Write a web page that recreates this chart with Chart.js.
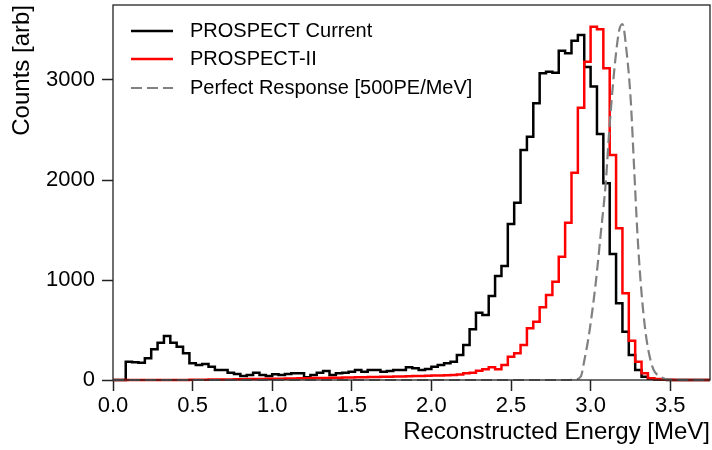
<!DOCTYPE html>
<html>
<head>
<meta charset="utf-8">
<script src="https://cdn.jsdelivr.net/npm/chart.js@4"></script>
<style>
  html, body { margin: 0; padding: 0; background: #fff; }
</style>
</head>
<body>
<canvas id="spec" width="712" height="450"></canvas>
<script>

// histogram binning (MeV)
var binStart = 0.0, binWidth = 0.04;

// PROSPECT Current, counts per bin
var currentCounts = [
  0, 0, 183, 177, 173, 217, 307, 373, 440, 373,
  333, 267, 167, 150, 160, 133, 100, 100, 73, 60,
  40, 50, 73, 50, 40, 57, 50, 60, 67, 67,
  27, 50, 73, 90, 50, 67, 73, 83, 100, 83,
  100, 100, 83, 90, 100, 100, 127, 117, 100, 110,
  133, 150, 167, 183, 250, 350, 507, 673, 650, 840,
  1040, 1140, 1560, 1773, 2300, 2433, 2767, 3067, 3083, 3073,
  3293, 3267, 3393, 3450, 3130, 2935, 2460, 1967, 1260, 767,
  483, 250, 100, 33, 12, 5, 3, 0, 0, 0,
  0, 0, 0, 0
];

// PROSPECT-II, counts per bin
var p2Counts = [
  0, 0, 0, 0, 0, 0, 0, 0, 0, 0,
  0, 1, 2, 2, 3, 4, 4, 5, 6, 7,
  8, 9, 10, 10, 12, 13, 13, 15, 16, 17,
  18, 19, 20, 20, 22, 23, 24, 25, 27, 28,
  29, 30, 32, 33, 35, 36, 37, 39, 40, 42,
  44, 46, 48, 50, 55, 67, 73, 93, 107, 127,
  107, 150, 233, 267, 350, 517, 583, 727, 850, 983,
  1233, 1573, 2073, 2723, 3183, 3533, 3507, 3117, 2250, 1517,
  867, 393, 183, 67, 17, 10, 5, 3, 0, 0,
  0, 0, 0, 0
];

// perfect response curve
var perfectE = [0, 2.85, 2.90, 2.938, 2.96, 2.991, 3.032, 3.064, 3.095, 3.116, 3.141, 3.162, 3.18,
  3.20, 3.225, 3.252, 3.273, 3.294, 3.315, 3.346, 3.388, 3.44, 3.50, 3.75];
var perfectCounts = [0, 0, 5, 33, 190, 467, 967, 1467, 1967, 2467, 2967, 3300, 3500,
  3560, 3300, 2800, 2133, 1467, 967, 467, 133, 33, 3, 0];

var xTicks = [0, 0.5, 1, 1.5, 2, 2.5, 3, 3.5];
var yTicks = [0, 1000, 2000, 3000];

function histPoints(counts) {
  var pts = [];
  for (var i = 0; i < counts.length; i++) {
    pts.push({x: binStart + i * binWidth, y: counts[i]});
  }
  pts.push({x: binStart + counts.length * binWidth, y: 0});
  return pts;
}

var perfectPts = perfectE.map(function(e, i) { return {x: e, y: perfectCounts[i]}; });

Chart.defaults.font.family = '"Liberation Sans", Arial, sans-serif';
Chart.defaults.color = '#000';

// frame around the plot area + legend in the upper left
var framePlugin = {
  id: 'frame',
  afterDraw: function(chart) {
    var ctx = chart.ctx, a = chart.chartArea;
    ctx.save();
    ctx.strokeStyle = '#222';
    ctx.lineWidth = 1.3;
    ctx.strokeRect(a.left, a.top, a.right - a.left, a.bottom - a.top);

    var rowY = [31, 59, 88];
    ctx.font = '20px "Liberation Sans", Arial, sans-serif';
    ctx.textBaseline = 'middle';
    ctx.textAlign = 'left';
    chart.data.datasets.forEach(function(ds, i) {
      ctx.beginPath();
      ctx.strokeStyle = ds.borderColor;
      ctx.lineWidth = ds.borderWidth;
      ctx.setLineDash(ds.borderDash || []);
      ctx.moveTo(a.left + 18, rowY[i]);
      ctx.lineTo(a.left + 60, rowY[i]);
      ctx.stroke();
      ctx.setLineDash([]);
      ctx.fillStyle = '#000';
      ctx.fillText(ds.label, a.left + 77, rowY[i]);
    });
    ctx.restore();
  }
};

new Chart(document.getElementById('spec'), {
  type: 'line',
  data: {
    datasets: [{
      label: 'PROSPECT Current',
      data: histPoints(currentCounts),
      borderColor: '#000000',
      borderWidth: 2.5,
      stepped: 'before',
      pointRadius: 0,
      order: 3,
      clip: {left: 2, top: 0, right: 0, bottom: 3}
    }, {
      label: 'PROSPECT-II',
      data: histPoints(p2Counts),
      borderColor: '#ff0000',
      borderWidth: 2.5,
      stepped: 'before',
      pointRadius: 0,
      order: 2,
      clip: {left: 2, top: 0, right: 0, bottom: 3}
    }, {
      label: 'Perfect Response [500PE/MeV]',
      data: perfectPts,
      borderColor: '#808080',
      borderWidth: 2.2,
      borderDash: [11, 5],
      cubicInterpolationMode: 'monotone',
      pointRadius: 0,
      order: 1,
      clip: {left: 2, top: 0, right: 0, bottom: 3}
    }]
  },
  options: {
    responsive: false,
    animation: false,
    layout: { padding: {top: 5, right: 2, left: 0, bottom: 0} },
    plugins: {
      legend: { display: false },
      tooltip: { enabled: false }
    },
    scales: {
      x: {
        type: 'linear',
        min: 0,
        max: 3.75,
        afterBuildTicks: function(s) { s.ticks = xTicks.map(function(v) { return {value: v}; }); },
        afterFit: function(s) { s.height = 70; s.paddingLeft = 0; s.paddingRight = 0; },
        ticks: {
          font: {size: 22},
          padding: 2,
          maxRotation: 0,
          autoSkip: false,
          callback: function(v) { return v.toFixed(1); }
        },
        grid: { drawOnChartArea: false, tickLength: 11, tickWidth: 1.5, tickColor: '#222' },
        border: { display: false },
        title: {
          display: true,
          text: 'Reconstructed Energy [MeV]',
          align: 'end',
          font: {size: 24},
          padding: {top: 0, bottom: 3}
        }
      },
      y: {
        min: 0,
        max: 3750,
        afterBuildTicks: function(s) { s.ticks = yTicks.map(function(v) { return {value: v}; }); },
        afterFit: function(s) { s.width = 113; s.paddingTop = 0; s.paddingBottom = 0; },
        ticks: {
          font: {size: 22},
          padding: 7,
          callback: function(v) { return String(v); }
        },
        grid: { drawOnChartArea: false, tickLength: 11, tickWidth: 1.5, tickColor: '#222' },
        border: { display: false },
        title: {
          display: true,
          text: 'Counts [arb]',
          align: 'end',
          font: {size: 24},
          padding: {top: 8, bottom: 0}
        }
      }
    }
  },
  plugins: [framePlugin]
});
</script>
</body>
</html>
